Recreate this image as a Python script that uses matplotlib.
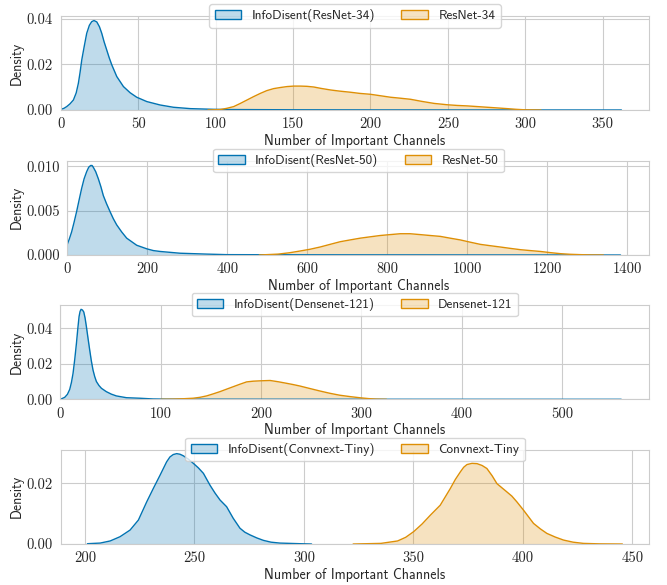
import matplotlib
matplotlib.use("Agg")
import matplotlib.pyplot as plt
from matplotlib.patches import Patch
import seaborn as sns

sns.set_style("whitegrid")
plt.rcParams["axes.formatter.use_mathtext"] = True

BLUE = "#0173b2"
ORANGE = "#de8f05"

# ResNet-34
r34_info_x = [0, 2, 3.9, 6, 8.2, 10, 11.4, 12.5, 13.6, 15.2, 16.8, 18.5, 20.0, 21.5, 23.3, 25, 26.5,
              28, 29.7, 31.3, 33.0, 36.2, 40.5, 44.8, 49.1, 55.6, 64.2, 72.8, 83.7, 98.7, 110,
              150, 200, 250, 300, 362]
r34_info_y = [0.0003, 0.0007, 0.0015, 0.0027, 0.0044, 0.0075, 0.0117, 0.0165, 0.022, 0.028, 0.0337,
              0.0372, 0.0388, 0.0393, 0.0387, 0.0366, 0.0337, 0.0300, 0.0264, 0.0230, 0.0198,
              0.0147, 0.0103, 0.0076, 0.0056, 0.0037, 0.0022, 0.0012, 0.0006, 0.0003, 0.0002,
              0.0001, 0.00005, 0.00003, 0.00002, 0.00001]
r34_base_x = [95, 103, 107, 111.7, 116, 120.3, 124.6, 128.9, 133, 137.5, 142, 146.2, 150.5, 154.8,
              159, 163.4, 168, 174.2, 180, 187.1, 193, 200, 206, 213, 219, 225.9, 233, 241, 249.6,
              256, 262.5, 269, 275.4, 282, 288.3, 294, 299.2, 310]
r34_base_y = [0, 0.0002, 0.0007, 0.0015, 0.0029, 0.0044, 0.0059, 0.0073, 0.0085, 0.0094, 0.0099,
              0.0103, 0.0105, 0.0105, 0.0104, 0.0101, 0.0095, 0.0088, 0.0083, 0.0078, 0.0073,
              0.0069, 0.0063, 0.0056, 0.0052, 0.0047, 0.0038, 0.0029, 0.0023, 0.0020, 0.0018,
              0.0015, 0.0012, 0.0009, 0.0006, 0.0003, 0.0001, 0]

# ResNet-50
r50_info_x = [0, 5, 10.8, 17, 23.3, 29.5, 35.8, 42, 48.4, 53.5, 58.4, 62, 65, 71, 77.6, 84, 90.1,
              98, 106.8, 115, 123.5, 136, 148.5, 161, 173.5, 186, 198.5, 215, 231.9, 282, 348.7,
              398.7, 500, 700, 1000, 1383]
r50_info_y = [0.0012, 0.0018, 0.0026, 0.0037, 0.0049, 0.0062, 0.0075, 0.0086, 0.0094, 0.0099,
              0.0101, 0.0101, 0.0099, 0.0094, 0.0086, 0.0077, 0.0067, 0.0058, 0.0049, 0.0041,
              0.0034, 0.0026, 0.0019, 0.0015, 0.0011, 0.0009, 0.0007, 0.0005, 0.0004, 0.0002,
              0.0001, 0.00004, 0.00003, 0.00002, 0.00001, 0]
r50_base_x = [480, 527, 555, 582, 607, 632, 657, 682.4, 707, 732.4, 757, 782.4, 807, 832.5, 857,
              882.5, 907, 932.6, 957, 982.6, 1007, 1032.6, 1057, 1082.7, 1107, 1132.7, 1157,
              1182.8, 1207, 1232.8, 1257, 1282.8, 1308, 1340]
r50_base_y = [0, 0.0001, 0.00025, 0.00045, 0.00065, 0.0009, 0.0012, 0.0015, 0.0017, 0.0019,
              0.00205, 0.0022, 0.0023, 0.0024, 0.0024, 0.0023, 0.0022, 0.0021, 0.0019, 0.0017,
              0.00145, 0.0012, 0.00105, 0.0009, 0.00075, 0.0006, 0.0005, 0.0004, 0.00027,
              0.00015, 0.00008, 0.00004, 0.00001, 0]

# Densenet-121
d121_info_x = [0, 4.3, 7, 9.3, 11, 12.6, 14.3, 16, 17.3, 18.6, 19.6, 20.6, 22, 23.3, 24.6, 25.9,
               27.5, 29.2, 30.8, 32.5, 34.2, 35.9, 38.4, 40.9, 45.8, 50.8, 55.8, 65.8, 79.1,
               92.4, 105.7, 200, 350, 559]
d121_info_y = [0, 0.0011, 0.0028, 0.0056, 0.0095, 0.0146, 0.0225, 0.0316, 0.0395, 0.0466, 0.0495,
               0.0507, 0.0503, 0.0492, 0.0458, 0.041, 0.0345, 0.0278, 0.0218, 0.0165, 0.0128,
               0.01, 0.0078, 0.0062, 0.0043, 0.0029, 0.0019, 0.0009, 0.0006, 0.0002, 0.0001,
               0.00005, 0.00002, 0]
d121_base_x = [100, 112.3, 122, 132.3, 139, 145.7, 152, 159, 165.6, 172.3, 179, 185.6, 192, 199,
               209, 217, 225.6, 232, 238.6, 248.5, 258.5, 268.5, 278.4, 289, 299.6, 307, 314.9,
               325]
d121_base_y = [0, 0.0001, 0.0003, 0.0006, 0.0011, 0.0019, 0.003, 0.0043, 0.0057, 0.0071, 0.0085,
               0.0098, 0.0102, 0.0104, 0.0106, 0.0099, 0.009, 0.0083, 0.0075, 0.0061, 0.0047,
               0.0034, 0.0023, 0.0015, 0.0008, 0.0004, 0.0001, 0]

# Convnext-Tiny
cnt_info_x = [201.1, 206.9, 211.5, 216, 220.6, 224.4, 228.2, 231.2, 234.3, 237.3, 238.8, 240.3,
              241.9, 243.4, 244.9, 247.2, 249.5, 251.8, 254.1, 257.1, 259.4, 261.7, 264.7, 267.7,
              270.8, 273, 275.4, 278.5, 281.5, 285, 289.1, 298.2, 303.5]
cnt_info_y = [0.0001, 0.0003, 0.001, 0.0024, 0.0046, 0.0079, 0.0139, 0.0183, 0.0227, 0.0271,
              0.0287, 0.0295, 0.0298, 0.0296, 0.0291, 0.028, 0.0266, 0.0251, 0.0233, 0.0194,
              0.0168, 0.0145, 0.0123, 0.0085, 0.0052, 0.0039, 0.003, 0.002, 0.0012, 0.0006,
              0.0003, 0.0001, 0]
cnt_base_x = [322.5, 335.2, 342.8, 346.5, 350.2, 354, 357.9, 362.3, 366.9, 369.2, 371.5, 373,
              374.5, 376.8, 379.1, 381.4, 383.6, 386, 388.2, 392.7, 395, 397.3, 400.3, 402.6,
              404.9, 408, 411, 414.8, 418.6, 423, 427.7, 435, 445.5]
cnt_base_y = [0, 0.0002, 0.001, 0.0022, 0.0041, 0.0066, 0.0096, 0.0128, 0.0183, 0.0213, 0.0238,
              0.0253, 0.0262, 0.0266, 0.0265, 0.0259, 0.0249, 0.0225, 0.0199, 0.0172, 0.0158,
              0.0139, 0.0112, 0.009, 0.0068, 0.005, 0.0035, 0.0023, 0.0013, 0.0006, 0.0002,
              0.00005, 0]

panels = [
    ("ResNet-34", r34_info_x, r34_info_y, r34_base_x, r34_base_y,
     (0, 380), range(0, 351, 50), (0, 0.0413), [0, 0.02, 0.04], "%.2f"),
    ("ResNet-50", r50_info_x, r50_info_y, r50_base_x, r50_base_y,
     (0, 1455), range(0, 1401, 200), (0, 0.01064), [0, 0.005, 0.010], "%.3f"),
    ("Densenet-121", d121_info_x, d121_info_y, d121_base_x, d121_base_y,
     (0, 587), range(0, 501, 100), (0, 0.0533), [0, 0.02, 0.04], "%.2f"),
    ("Convnext-Tiny", cnt_info_x, cnt_info_y, cnt_base_x, cnt_base_y,
     (188.9, 457.8), range(200, 451, 50), (0, 0.0311), [0, 0.02], "%.2f"),
]

# axes boxes in pixels: left, right, top, bottom
boxes = [(60.7, 649.3, 16, 110), (67.3, 649.3, 160.7, 255),
         (60.4, 649.3, 304.7, 399.3), (60.7, 649.3, 449.7, 544)]

W, H = 667, 585
fig = plt.figure(figsize=(W / 100, H / 100), dpi=100)

for (name, ix, iy, bx, by, xl, xt, yl, yt, fmt), (l, r, t, b) in zip(panels, boxes):
    ax = fig.add_axes([l / W, 1 - b / H, (r - l) / W, (b - t) / H])
    ax.fill_between(ix, iy, color=BLUE, alpha=0.25, lw=0)
    ax.plot(ix, iy, color=BLUE, lw=1)
    ax.fill_between(bx, by, color=ORANGE, alpha=0.25, lw=0)
    ax.plot(bx, by, color=ORANGE, lw=1)
    ax.set_xlim(*xl)
    ax.set_ylim(*yl)
    ax.set_xticks(list(xt))
    ax.set_xticklabels([str(v) for v in xt], family="cmr10", fontsize=10.5)
    ax.set_yticks(yt)
    ax.set_yticklabels([fmt % v for v in yt], family="cmr10", fontsize=10.5)
    ax.tick_params(axis="both", pad=2)
    ax.set_xlabel("Number of Important Channels", family="cmss10", fontsize=10, labelpad=2)
    ax.set_ylabel("Density", family="cmss10", fontsize=10, labelpad=2)
    for s in ax.spines.values():
        s.set_color("#cccccc")
    h1 = Patch(facecolor=(0.004, 0.451, 0.698, 0.25), edgecolor=BLUE, lw=1)
    h2 = Patch(facecolor=(0.871, 0.561, 0.020, 0.25), edgecolor=ORANGE, lw=1)
    ax.legend([h1, h2], ["InfoDisent(%s)" % name, name], loc="upper center",
              bbox_to_anchor=(0.5, 1 + 12 / (b - t)), ncol=2, frameon=True,
              prop={"family": "cmss10", "size": 9.5}, borderaxespad=0)

fig.savefig("out.png", dpi=100)
